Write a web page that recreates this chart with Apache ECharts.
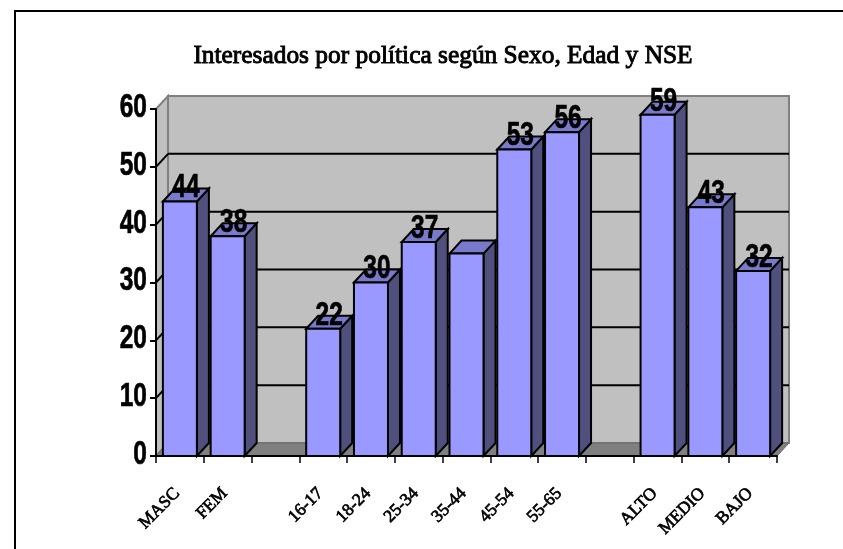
<!DOCTYPE html>
<html>
<head>
<meta charset="utf-8">
<script src="https://cdn.jsdelivr.net/npm/echarts@6/dist/echarts.min.js"></script>
<style>html,body{margin:0;padding:0;background:#fff}#c{width:843px;height:549px}</style>
</head>
<body>
<div id="c"></div>
<script>
const titleText = 'Interesados por política según Sexo, Edad y NSE';
const categories = ['MASC','FEM','','16-17','18-24','25-34','35-44','45-54','55-65','','ALTO','MEDIO','BAJO'];
const values = [44,38,null,22,30,37,35,53,56,null,59,43,32];
const shownLabels = ['44','38','','22','30','37','','53','56','','59','43','32'];
const yTicks = [0,10,20,30,40,50,60];

const DX = 12, DY = 13, BAR_W = 34;
const SANS = '"Liberation Sans",Arial,sans-serif';
const SERIF = '"Liberation Serif","Times New Roman",serif';

const chart = echarts.init(document.getElementById('c'), null, {renderer:'canvas'});

function poly(points, fill, stroke, lw){
  return {type:'polygon', shape:{points}, style:{fill, stroke, lineWidth:lw, lineJoin:'miter'}};
}
function tallText(text, x, y, align){
  return {type:'text', x, y, scaleX:1, scaleY:1.32,
    style:{text, x:0, y:0, textAlign:align, textVerticalAlign:'middle',
      fontFamily:SANS, fontWeight:'bold', fontSize:24.5, fill:'#000', stroke:'#000', lineWidth:0.5}};
}
function renderWalls(params, api){
  const n = categories.length;
  const band = api.size([1,0])[0];
  const bl = api.coord([0,0]); const tl = api.coord([0,60]);
  const br = api.coord([n-1,0]);
  const x0 = bl[0]-band/2, x1 = br[0]+band/2, y0 = bl[1], y1 = tl[1];
  return {type:'group', children:[
    poly([[x0+DX,y1-DY],[x1+DX,y1-DY],[x1+DX,y0-DY],[x0+DX,y0-DY]],'#c0c0c0','#808080',2),
    poly([[x0,y1],[x0+DX,y1-DY],[x0+DX,y0-DY],[x0,y0]],'#c0c0c0','#808080',2),
    poly([[x0,y0],[x0+DX,y0-DY],[x1+DX,y0-DY],[x1,y0]],'#808080','#666',1)
  ]};
}
function renderGrid(params, api){
  const v = api.value(0);
  const n = categories.length;
  const band = api.size([1,0])[0];
  const a = api.coord([0,v]), b = api.coord([n-1,v]);
  const x0 = a[0]-band/2, x1 = b[0]+band/2, y = a[1];
  return {type:'group', children:[
    {type:'line', shape:{x1:x0,y1:y,x2:x0+DX,y2:y-DY}, style:{stroke:'#000',lineWidth:2}},
    {type:'line', shape:{x1:x0+DX,y1:y-DY,x2:x1+DX,y2:y-DY}, style:{stroke:'#000',lineWidth:2}}
  ]};
}
function renderBar(params, api){
  const idx = api.value(0), val = api.value(1);
  const p = api.coord([idx,val]), q = api.coord([idx,0]);
  const l = p[0]-BAR_W/2, r = p[0]+BAR_W/2, t = p[1], b = q[1];
  const S = '#000', LW = 2;
  return {type:'group', children:[
    poly([[r,t],[r+DX,t-DY],[r+DX,b-DY],[r,b]],'#50507f',S,LW),
    poly([[l,t],[l+DX,t-DY],[r+DX,t-DY],[r,t]],'#7a7acc',S,LW),
    poly([[l,t],[r,t],[r,b],[l,b]],'#9999ff',S,LW)
  ]};
}
function renderLabel(params, api){
  const idx = api.value(0), val = api.value(1);
  const p = api.coord([idx,val]);
  return tallText(shownLabels[idx], p[0]+DX/2, p[1]-13, 'center');
}
function renderYLabel(params, api){
  const v = api.value(0);
  const band = api.size([1,0])[0];
  const p = api.coord([0,v]);
  return tallText(String(v), p[0]-band/2-9, p[1]-1, 'right');
}

const barData = values.map((v,i)=>[i,v]).filter(d=>d[1]!==null);

chart.setOption({
  animation:false,
  backgroundColor:'#fff',
  graphic:[
    {type:'line',shape:{x1:15,y1:11,x2:843,y2:11},style:{stroke:'#000',lineWidth:2}},
    {type:'line',shape:{x1:15,y1:10,x2:15,y2:549},style:{stroke:'#000',lineWidth:2}},
    {type:'text',x:443,y:56,style:{text:titleText,x:0,y:0,textAlign:'center',textVerticalAlign:'middle',
      fontFamily:SERIF,fontSize:25.4,fill:'#000',stroke:'#000',lineWidth:0.9}}
  ],
  grid:{left:156,top:109,width:621,height:347,containLabel:false},
  xAxis:{type:'category',data:categories,z:5,
    axisLine:{lineStyle:{color:'#000',width:2}},
    axisTick:{show:true,alignWithLabel:false,interval:0,length:7,lineStyle:{color:'#000',width:1.5}},
    axisLabel:{interval:0,rotate:45,margin:32,padding:[0,4,0,0],fontFamily:SERIF,fontSize:17.5,color:'#000',textBorderColor:'#000',textBorderWidth:0.7},
    splitLine:{show:false}},
  yAxis:{type:'value',min:0,max:60,interval:10,z:5,
    axisLine:{show:true,lineStyle:{color:'#000',width:2}},
    axisTick:{show:true,length:6,lineStyle:{color:'#000',width:2}},
    axisLabel:{show:false},
    splitLine:{show:false}},
  series:[
    {type:'custom',z:1,clip:false,renderItem:renderWalls,data:[[0]],silent:true},
    {type:'custom',z:2,clip:false,renderItem:renderGrid,data:yTicks.slice(1,-1).map(v=>[v]),encode:{y:0},silent:true},
    {type:'custom',z:3,clip:false,renderItem:renderBar,data:barData,encode:{x:0,y:1}},
    {type:'custom',z:6,clip:false,renderItem:renderLabel,data:barData,encode:{x:0,y:1},silent:true},
    {type:'custom',z:6,clip:false,renderItem:renderYLabel,data:yTicks.map(v=>[v]),encode:{y:0},silent:true}
  ]
});
</script>
</body>
</html>
